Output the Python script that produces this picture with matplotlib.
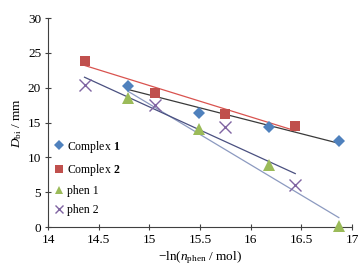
import numpy as np
import matplotlib
matplotlib.use("Agg")
import matplotlib.pyplot as plt

plt.rcParams['font.family'] = ['Liberation Serif', 'DejaVu Serif']
plt.rcParams['mathtext.fontset'] = 'custom'
plt.rcParams['mathtext.rm'] = 'Liberation Serif'
plt.rcParams['mathtext.it'] = 'Liberation Serif:italic'
plt.rcParams['mathtext.bf'] = 'Liberation Serif:bold'

# data
c1_x = [14.79, 15.49, 16.18, 16.87]
c1_y = [20.3, 16.4, 14.4, 12.4]
c2_x = [14.36, 15.06, 15.75, 16.44]
c2_y = [23.9, 19.3, 16.3, 14.5]
p1_x = [14.79, 15.49, 16.18, 16.87]
p1_y = [18.5, 14.1, 8.9, 0.1]
p2_x = [14.36, 15.06, 15.75, 16.44]
p2_y = [20.4, 17.5, 14.3, 6.1]

series = [
    (c1_x, c1_y, 'D', '#4F81BD', '#3a3a3a', r'Complex $\mathbf{1}$', 6.5),
    (c2_x, c2_y, 's', '#C0504D', '#D9534F', r'Complex $\mathbf{2}$', 7.5),
    (p1_x, p1_y, '^', '#9BBB59', '#8C9AC0', 'phen 1', 8),
    (p2_x, p2_y, 'x', '#8064A2', '#4A5080', 'phen 2', 8),
]

fig = plt.figure(figsize=(3.64, 2.65), dpi=100)
ax = fig.add_axes([0.132, 0.143, 0.835, 0.789])

for xs, ys, m, mc, lc, lab, ms in series:
    xs = np.array(xs); ys = np.array(ys)
    k, b = np.polyfit(xs, ys, 1)
    ax.plot([xs[0], xs[-1]], [k * xs[0] + b, k * xs[-1] + b], color=lc, lw=0.9, zorder=2)
    if m == 'x':
        ax.plot(xs, ys, linestyle='none', marker=m, color=mc, markersize=ms,
                markeredgewidth=1.0, label=lab, zorder=3, clip_on=False)
    else:
        ax.plot(xs, ys, linestyle='none', marker=m, color=mc, markersize=ms,
                markeredgewidth=0, label=lab, zorder=3, clip_on=False)

ax.set_xlim(14, 17)
ax.set_ylim(0, 30)
ax.set_xticks([14, 14.5, 15, 15.5, 16, 16.5, 17])
ax.set_xticklabels(['14', '14.5', '15', '15.5', '16', '16.5', '17'])
ax.set_yticks([0, 5, 10, 15, 20, 25, 30])
for s in ['top', 'right']:
    ax.spines[s].set_visible(False)
for s in ['left', 'bottom']:
    ax.spines[s].set_color('#404040')
    ax.spines[s].set_linewidth(0.8)
ax.tick_params(direction='inout', length=4, width=0.8, color='#404040',
               labelsize=9.5)
ax.tick_params(axis='x', pad=3)
ax.tick_params(axis='y', pad=3)
ax.set_xlabel(r'$-$ln($n_{\rm phen}$ / mol)', fontsize=9.5, labelpad=2)
ax.set_ylabel(r'$D_{\rm bi}$ / mm', fontsize=9.5, labelpad=3)

ax.legend(loc='lower left', bbox_to_anchor=(0.0, 0.02), frameon=False,
          fontsize=8.5, handlelength=0.7, handletextpad=0.3,
          labelspacing=0.6, borderaxespad=0.2, markerscale=0.75)

fig.savefig('out.png', dpi=100)
